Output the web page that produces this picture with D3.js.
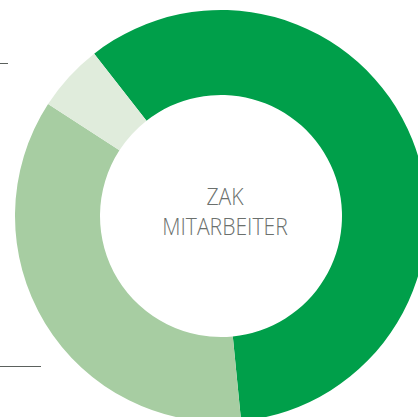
<!DOCTYPE html>
<html>
<head>
<meta charset="utf-8">
<script src="https://cdn.jsdelivr.net/npm/d3@7"></script>
<style>
  html, body { margin: 0; padding: 0; background: #fff; }
  svg { display: block; }
</style>
</head>
<body>
<div id="chart"></div>
<script>
// shares of the ring, in drawing order (clockwise from the top-left cut)
const categories = ['A', 'B', 'C'];
const values = [59, 35.7, 5.3];
const colors = ['#009f4a', '#a7cda2', '#e0ecdc'];
const centerLines = ['ZAK', 'MITARBEITER'];

const width = 418;
const height = 417;
const cx = 221;
const cy = 216;
const radius = 206;
const innerRadius = 121;

let svg = d3.select('#chart')
  .append('svg')
  .attr('width', width)
  .attr('height', height);

// leader line stubs on the left edge
svg.append('line')
  .attr('x1', 0).attr('x2', 8)
  .attr('y1', 63.5).attr('y2', 63.5)
  .attr('stroke', '#5b615d')
  .attr('stroke-width', 1);
svg.append('line')
  .attr('x1', 0).attr('x2', 41)
  .attr('y1', 366.5).attr('y2', 366.5)
  .attr('stroke', '#5b615d')
  .attr('stroke-width', 1);

let g = svg.append('g')
  .attr('transform', `translate(${cx},${cy})`);

let startAngle = -38 * Math.PI / 180;

let pie = d3.pie()
  .value(d => d)
  .sort(null)
  .startAngle(startAngle)
  .endAngle(startAngle + 2 * Math.PI);

let arc = d3.arc()
  .innerRadius(innerRadius)
  .outerRadius(radius);

g.selectAll('path.slice')
  .data(pie(values))
  .enter()
  .append('path')
  .attr('class', 'slice')
  .attr('d', arc)
  .attr('fill', (d, i) => colors[i]);

// the original face is a narrow light sans, so squeeze Open Sans a little
let label = g.append('text')
  .attr('text-anchor', 'middle')
  .attr('transform', 'translate(4,0) scale(0.92,1)')
  .attr('fill', '#6b706d')
  .style('font-family', '"Open Sans", sans-serif')
  .style('font-weight', 300)
  .style('font-size', '23px');

centerLines.forEach((t, i) => {
  label.append('tspan')
    .attr('x', 0)
    .attr('y', -11 + i * 30)
    .text(t);
});
</script>
</body>
</html>
